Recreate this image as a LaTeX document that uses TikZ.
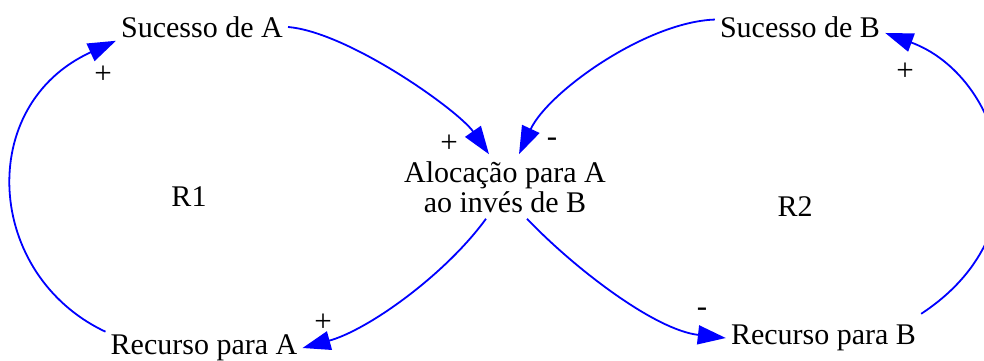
\documentclass[tikz,border=0pt]{standalone}
\usepackage{fontspec}
\setmainfont{Liberation Serif}
\usepackage{tikz}
\usetikzlibrary{arrows.meta}
\definecolor{linkblue}{HTML}{0000FF}
\tikzset{
  var/.style={inner xsep=5pt,inner ysep=3pt,align=center,font=\fontsize{30}{30}\selectfont},
  sgn/.style={inner sep=0pt,font=\fontsize{31}{31}\selectfont},
  link/.style={linkblue,line width=1.8pt,-{Triangle[length=28pt,width=19pt]}}
}

\begin{document}
\begin{tikzpicture}[x=1pt,y=-1pt]
\useasboundingbox (0,0) rectangle (984,360);
\node[var] (sucA) at (202,27) {Sucesso de A};
\node[var] (sucB) at (800,27) {Sucesso de B};
\node[var,inner sep=2pt] (aloc) at (505,187) {Alocação para A\\ao invés de B};
\node[var] (recA) at (204,348) {Recurso para A};
\node[var,inner ysep=11pt] (recB) at (823.5,338) {Recurso para B};
\node[var] (r1) at (189,197) {R1};
\node[var] (r2) at (795,207) {R2};
\draw[link] (recA.north west) .. controls (-15,275) and (-25,105) .. (sucA.south west);
\draw[link] (sucA.east) .. controls (348,32) and (458,110) .. ([xshift=-16pt,yshift=5pt]aloc.north);
\draw[link] (sucB.175) .. controls (646,22) and (548,92) .. ([xshift=14pt,yshift=5pt]aloc.north);
\draw[link] ([xshift=-19pt,yshift=-4pt]aloc.south) .. controls (445,275) and (368,330) .. (recA.east);
\draw[link] ([xshift=22pt,yshift=-4pt]aloc.south) .. controls (575,269) and (655,330) .. (recB.west);
\draw[link] (recB.north east) .. controls (1052,228) and (1000,75) .. (sucB.-4);
\node[sgn] (s1) at (103,75) {+};
\node[sgn] (s2) at (449,144) {+};
\node[sgn] (s3) at (552,142) {-};
\node[sgn] (s4) at (323,323) {+};
\node[sgn] (s5) at (702,312) {-};
\node[sgn] (s6) at (905,72) {+};
\end{tikzpicture}
\end{document}
